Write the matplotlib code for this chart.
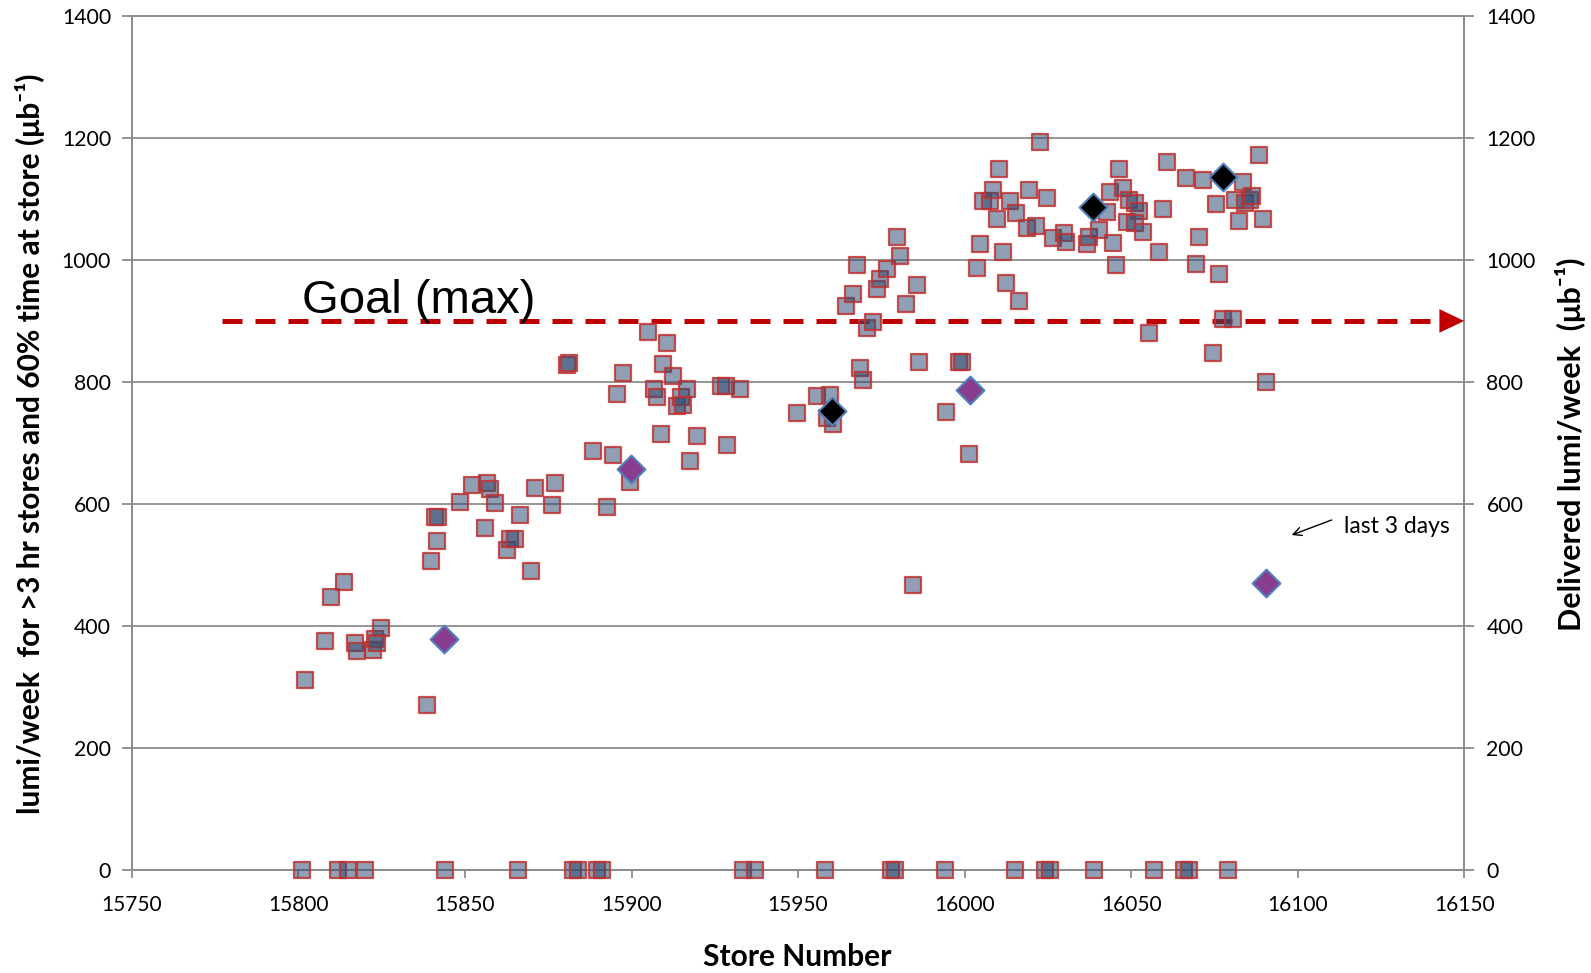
import matplotlib
matplotlib.use("Agg")
import matplotlib.pyplot as plt

# store number / lumi per week (squares)
store = [15802, 15808, 15809.7, 15813.8, 15817, 15817.7, 15822.3, 15823, 15823.7, 15824.8,
         15838.7, 15839.8, 15841, 15842, 15841.5, 15848.5, 15852, 15856, 15856.5, 15857.5,
         15859, 15862.5, 15863.5, 15865, 15866.5, 15869.8, 15871, 15876, 15877, 15880.5,
         15881.3, 15888.5, 15892.7, 15894.5, 15895.5, 15897.5, 15899.5, 15904.9, 15906.8, 15907.6,
         15908.8, 15909.5, 15910.7, 15912.4, 15913.6, 15915, 15915.5, 15916.6, 15917.6, 15919.8,
         15927, 15928.5, 15928.8, 15932.6, 15949.6, 15955.6, 15959.6, 15958.6, 15960.6, 15964.4,
         15966.6, 15967.6, 15968.6, 15969.6, 15970.6, 15972.6, 15973.6, 15974.6, 15976.6, 15979.6,
         15980.6, 15982.4, 15984.4, 15985.6, 15986.4, 15994.4, 15998.4, 15999.1, 16001.4, 16003.6,
         16004.5, 16005.6, 16007.6, 16008.6, 16009.6, 16010.4, 16011.5, 16012.5, 16013.6, 16015.4,
         16016.4, 16018.6, 16019.4, 16021.4, 16022.6, 16024.7, 16026.6, 16029.7, 16030.5, 16036.7,
         16037.5, 16040.5, 16042.7, 16043.7, 16044.5, 16045.5, 16046.5, 16047.5, 16048.7, 16049.5,
         16051.2, 16052.5, 16051.2, 16053.5, 16055.5, 16058.5, 16059.5, 16060.7, 16066.5, 16069.5,
         16070.5, 16071.5, 16074.5, 16075.5, 16076.5, 16077.7, 16080.5, 16081.2, 16082.5, 16083.5,
         16084.2, 16085.7, 16086.2, 16088.5, 16089.5, 16090.5]
lumi = [311, 375, 447, 472, 372, 359, 361, 379, 372, 397,
        270, 506, 579, 579, 539, 603, 631, 561, 634, 624,
        601, 524, 543, 543, 581, 489, 626, 598, 634, 828,
        831, 686, 595, 680, 780, 814, 635, 882, 788, 775,
        714, 829, 864, 809, 760, 776, 762, 788, 670, 712,
        793, 793, 697, 788, 749, 777, 779, 740, 731, 925,
        945, 992, 822, 803, 888, 899, 952, 968, 986, 1037,
        1007, 928, 467, 959, 832, 750, 832, 832, 681, 987,
        1026, 1097, 1096, 1115, 1067, 1150, 1013, 962, 1097, 1077,
        933, 1052, 1115, 1056, 1194, 1101, 1036, 1044, 1030, 1027,
        1037, 1049, 1078, 1112, 1028, 992, 1150, 1118, 1063, 1098,
        1093, 1081, 1060, 1046, 881, 1013, 1083, 1160, 1134, 993,
        1037, 1131, 847, 1092, 977, 903, 903, 1098, 1064, 1128,
        1093, 1098, 1105, 1172, 1067, 800]

# stores with zero lumi
zero_store = [15801, 15812, 15815, 15820, 15844, 15866, 15882.5, 15884, 15889.5, 15891,
              15933.5, 15937, 15958, 15978, 15979, 15994, 16015, 16024, 16025.5, 16039,
              16057, 16066, 16067.5, 16079]

# diamonds
purple_store = [15843.8, 15899.9, 16001.6, 16090.5]
purple_lumi = [379, 657, 787, 470]
black_store = [15960.1, 16038.6, 16077.7]
black_lumi = [753, 1087, 1135.6]

goal = 900
y_ticks = list(range(0, 1401, 200))
x_ticks = list(range(15750, 16151, 50))

plt.rcParams['font.family'] = ['Lato', 'DejaVu Sans']
grey = '#8c8c8c'

fig = plt.figure(figsize=(15.91, 9.73), dpi=100)
ax = fig.add_axes([0.0829, 0.1063, 0.8374, 0.8771])
ax.set_xlim(15750, 16150)
ax.set_ylim(0, 1400)
ax.set_xticks(x_ticks)
ax.set_yticks(y_ticks)
ax.yaxis.grid(True, color=grey, lw=1.3)
ax.set_axisbelow(True)
for s in ax.spines.values():
    s.set_color(grey)
    s.set_linewidth(1.3)
ax.tick_params(axis='y', direction='out', length=7, color=grey, width=1.3, labelsize=15.3, pad=8)
ax.tick_params(axis='x', direction='out', length=6, color=grey, width=1.3, labelsize=15, pad=12)

ax2 = ax.twinx()
ax2.set_ylim(0, 1400)
ax2.set_yticks(y_ticks)
for s in ax2.spines.values():
    s.set_color(grey)
    s.set_linewidth(1.3)
ax2.tick_params(axis='y', direction='out', length=7, color=grey, width=1.3, labelsize=15.3, pad=9)

sq_face = (0.18, 0.29, 0.44, 0.53)
sq_edge = (0.75, 0.2, 0.2, 0.85)
ax2.scatter(store, lumi, marker='s', s=125, facecolor=sq_face, edgecolor=sq_edge, lw=1.6, zorder=3, clip_on=False)
ax2.scatter(zero_store, [0] * len(zero_store), marker='s', s=125, facecolor=sq_face, edgecolor=sq_edge,
            lw=1.6, zorder=3, clip_on=False)
ax2.scatter(purple_store, purple_lumi, marker='D', s=200, facecolor='#883d8f', edgecolor='#4f81bd', lw=1.5, zorder=4)
ax2.scatter(black_store, black_lumi, marker='D', s=200, facecolor='black', edgecolor='#4f81bd', lw=1.5, zorder=4)

# goal line
ax2.plot([15777, 16143], [goal, goal], color='#c00000', lw=3.6, dashes=(4, 2.6), zorder=2)
ax2.annotate('', xy=(16150, goal), xytext=(16140, goal),
             arrowprops=dict(arrowstyle='-|>,head_length=1.05,head_width=0.5', color='#c00000', lw=0,
                             mutation_scale=17, shrinkA=0, shrinkB=0), annotation_clip=False, zorder=5)
ax2.text(15801, 913, 'Goal (max)', fontsize=34, family='Liberation Sans', va='baseline', ha='left')

ax2.annotate('', xy=(16098.2, 548.8), xytext=(16110.2, 573.5),
             arrowprops=dict(arrowstyle='->', color='black', lw=1, mutation_scale=15, shrinkA=0, shrinkB=0))
ax2.text(16114, 552, 'last 3 days', fontsize=16.5, va='baseline', ha='left')

fig.text(30 / 1591, 1 - 444 / 973, 'lumi/week  for >3 hr stores and 60% time at store (\u03bcb\u207b\u00b9)',
         rotation=90, ha='center', va='center', fontsize=21.5, fontweight='bold')
fig.text(1571 / 1591, 1 - 444 / 973, 'Delivered lumi/week  (\u03bcb\u207b\u00b9)',
         rotation=90, ha='center', va='center', fontsize=22, fontweight='bold')
fig.text(797 / 1591, 1 - 957 / 973, 'Store Number', ha='center', va='center', fontsize=21.5, fontweight='bold')

fig.savefig('out.png', dpi=100)
